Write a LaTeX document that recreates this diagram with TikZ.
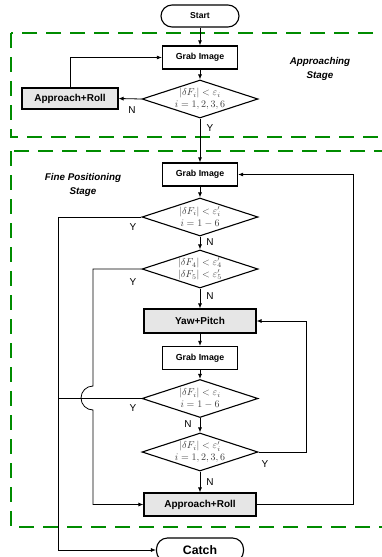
\documentclass[tikz,border=0pt]{standalone}
\usepackage{fontspec}
\setmainfont{Liberation Sans}
\usetikzlibrary{arrows.meta,shapes.geometric}
\definecolor{stagegreen}{RGB}{0,140,0}
\definecolor{boxgray}{RGB}{230,230,230}
\definecolor{mathgray}{RGB}{60,60,60}

\begin{document}
\begin{tikzpicture}[x=1pt,y=-1pt,
  every node/.style={inner sep=0pt},
  proc/.style={draw, line width=1.3pt, minimum width=75pt, minimum height=23pt,
    font=\bfseries\fontsize{8.8}{10}\selectfont},
  act/.style={draw, line width=1.1pt, fill=boxgray, minimum height=23pt,
    font=\bfseries\fontsize{10}{12}\selectfont},
  term/.style={draw, line width=1.1pt, rounded corners=11pt, minimum height=22pt},
  test/.style={draw, line width=1.1pt, shape=diamond, aspect=3.05,
    minimum width=116pt, minimum height=38pt, inner sep=-6pt, align=center,
    text=mathgray, font=\fontsize{10}{12}\selectfont},
  flow/.style={line width=0.8pt, -{Latex[length=5pt,width=4pt]}},
  link/.style={line width=0.8pt},
  yn/.style={font=\fontsize{10}{12}\selectfont},
  stage/.style={draw=stagegreen, line width=2pt, dash pattern=on 15pt off 9pt},
  stagename/.style={font=\bfseries\itshape\fontsize{9.8}{14}\selectfont, align=center}
]
\useasboundingbox (0,0) rectangle (382,557);

% stage frames
\draw[stage] (11,33) rectangle (400,137);
\draw[stage] (11,151) rectangle (400,527);
\node[stagename] (approachname) at (320,69) {Approaching\\Stage};
\node[stagename] (finename) at (83,185) {Fine Positioning\\Stage};

% approaching stage
\node[term, minimum width=78pt, font=\bfseries\fontsize{8.6}{10}\selectfont] (start) at (200,16) {Start};
\node[proc] (grab1) at (200,57.5) {Grab Image};
\node[test] (d1) at (200,99) {$\left|\delta F_i\right| < \varepsilon_i$\\$i=1,2,3,6$};
\node[act, minimum width=96pt, minimum height=21pt] (ar1) at (70,98.5) {Approach+Roll};

% fine positioning stage
\node[proc] (grab2) at (200,174.5) {Grab Image};
\node[test] (d2) at (200,217) {$\left|\delta F_i\right| < \varepsilon_i^{\prime}$\\$i=1-6$};
\node[test] (d3) at (200,269) {$\left|\delta F_4\right| < \varepsilon_4^{\prime}$\\$\left|\delta F_5\right| < \varepsilon_5^{\prime}$};
\node[act, minimum width=112pt, minimum height=24pt] (yaw) at (200,321) {Yaw+Pitch};
\node[proc] (grab3) at (200,358) {Grab Image};
\node[test] (d4) at (200,398.5) {$\left|\delta F_i\right| < \varepsilon_i$\\$i=1-6$};
\node[test] (d5) at (200,452) {$\left|\delta F_i\right| < \varepsilon_i^{\prime}$\\$i=1,2,3,6$};
\node[act, minimum width=112pt] (ar2) at (200,504.5) {Approach+Roll};
\node[term, minimum width=87pt, minimum height=24pt, font=\bfseries\fontsize{12.3}{14}\selectfont] (catch) at (200,550) {Catch};

% routing columns
\coordinate (exitx) at (58,0);
\coordinate (catchbend) at (58,550);
\coordinate (hoptop) at (93,386);
\coordinate (loopx) at (306,0);
\coordinate (backx) at (353,0);

% connectors
\draw[flow] (start) -- (grab1);
\draw[flow] (grab1) -- (d1);
\draw[flow] (d1.west) -- (ar1.east);
\draw[flow] (ar1.north) |- (grab1.west);
\draw[flow] (d1.south) -- (grab2.north);
\draw[flow] (grab2) -- (d2);
\draw[flow] (d2.west) -| (catchbend) -- (catch.west);
\draw[flow] (d2.south) -- (d3.north);
\draw[flow] (d3.west) -| (hoptop) arc[start angle=270, end angle=90, radius=12] |- (ar2.west);
\draw[flow] (d3.south) -- (yaw.north);
\draw[flow] (yaw) -- (grab3);
\draw[flow] (grab3) -- (d4);
\draw[link] (d4.west) -- (exitx |- d4.west);
\draw[flow] (d4.south) -- (d5.north);
\draw[flow] (d5.east) -| (loopx |- yaw.east) -- (yaw.east);
\draw[flow] (d5.south) -- (ar2.north);
\draw[flow] (ar2.east) -| (backx |- grab2.east) -- (grab2.east);

% branch labels
\node[yn] (n1) at (132,110) {N};
\node[yn] (y1) at (210,128) {Y};
\node[yn] (y2) at (133,227) {Y};
\node[yn] (n2) at (210,242) {N};
\node[yn] (y3) at (133,282) {Y};
\node[yn] (n3) at (210,296) {N};
\node[yn] (y4) at (133,408) {Y};
\node[yn] (n4) at (188,424) {N};
\node[yn] (y5) at (265,464) {Y};
\node[yn] (n5) at (210,482) {N};
\end{tikzpicture}
\end{document}
